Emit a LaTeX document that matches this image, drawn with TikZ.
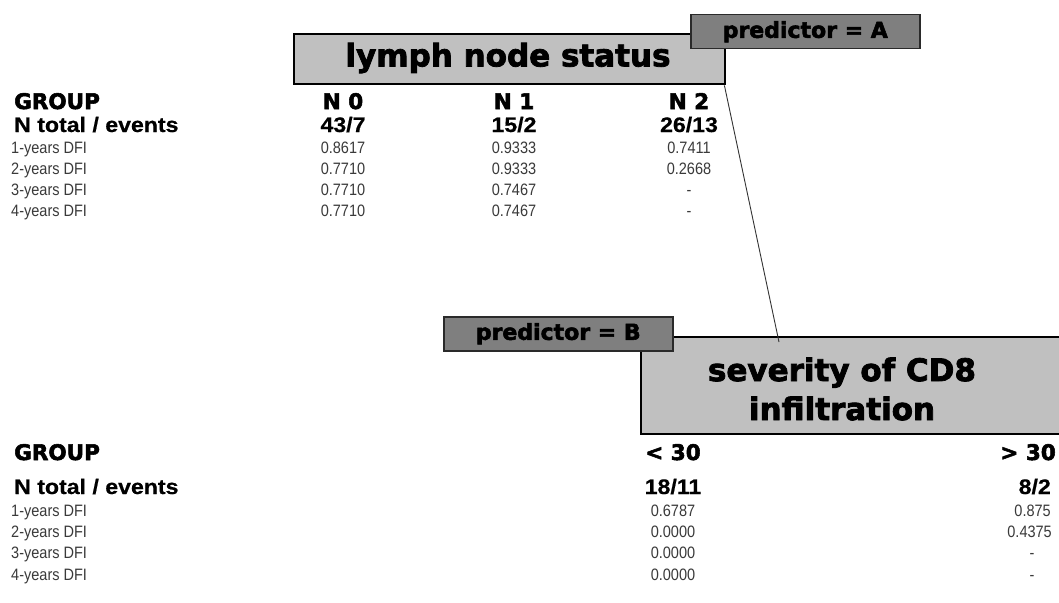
\documentclass[tikz,border=0pt]{standalone}
\usepackage{fontspec}
\setmainfont{Liberation Sans}
\newfontfamily\heavyfont{DejaVu Sans Bold}[FakeBold=2.5]
\newfontfamily\narrowfont{Liberation Sans}[FakeStretch=0.88]
\newfontfamily\hdrfont{Liberation Sans Bold}[FakeStretch=1.1, FakeBold=0.6]
\definecolor{boxlight}{HTML}{C0C0C0}
\definecolor{boxdark}{HTML}{7F7F7F}
\definecolor{boxedge}{HTML}{2A2A2A}
\definecolor{valtext}{HTML}{3A3A3A}
\tikzset{
  lightbox/.style={draw=black, line width=2.4pt, fill=boxlight, inner sep=0pt, anchor=north west},
  predbox/.style={draw=boxedge, line width=1.5pt, fill=boxdark, inner sep=0pt, anchor=north west,
    font=\heavyfont\fontsize{22}{24}\selectfont},
  titletext/.style={font=\heavyfont\fontsize{31}{39}\selectfont, align=center, inner sep=0pt},
  heavyhdr/.style={font=\heavyfont\fontsize{21.5}{24}\selectfont, inner sep=0pt},
  boldhdr/.style={font=\hdrfont\fontsize{21}{24}\selectfont, inner sep=0pt},
  rowlab/.style={font=\narrowfont\fontsize{16.5}{19}\selectfont, text=valtext, inner sep=0pt, anchor=base west},
  val/.style={font=\narrowfont\fontsize{16.5}{19}\selectfont, text=valtext, inner sep=0pt, anchor=base},
  valr/.style={font=\narrowfont\fontsize{16.5}{19}\selectfont, text=valtext, inner sep=0pt, anchor=base east},
  conn/.style={draw=black!80, line width=0.9pt}
}
\begin{document}
\begin{tikzpicture}[x=1pt,y=-1pt]
\clip (0,0) rectangle (1059,602);
\fill[white] (0,0) rectangle (1059,602);

% ---------- top boxes ----------
\node[lightbox, minimum width=431pt, minimum height=50pt] (lymph) at (293,33) {};
\node[titletext] (lymphtxt) at (508,58) {lymph node status};
\node[predbox, minimum width=229pt, minimum height=34pt] (predA) at (690,14) {predictor = A};

% ---------- bottom boxes ----------
\node[lightbox, minimum width=440pt, minimum height=97pt] (sev) at (640,336) {};
\coordinate (sevin) at (779,342);
\draw[conn] ([xshift=-2pt]lymph.south east) -- (sevin);
\node[titletext] (sevtxt) at (842,389) {severity of CD8\\infiltration};
\node[predbox, minimum width=229pt, minimum height=34pt] (predB) at (443,316) {predictor = B};

% ---------- top table ----------
\node[heavyhdr, anchor=base west] (g1) at (14,109) {GROUP};
\node[boldhdr, anchor=base west] (nt1) at (14,132) {N total / events};
\node[rowlab] (r11) at (11,153) {1-years DFI};
\node[rowlab] (r12) at (11,174) {2-years DFI};
\node[rowlab] (r13) at (11,195) {3-years DFI};
\node[rowlab] (r14) at (11,216) {4-years DFI};

\node[heavyhdr, anchor=base] (c0) at (343,109) {N 0};
\node[heavyhdr, anchor=base] (c1) at (514,109) {N 1};
\node[heavyhdr, anchor=base] (c2) at (689,109) {N 2};
\node[boldhdr, anchor=base] (n0) at (343,132) {43/7};
\node[boldhdr, anchor=base] (n1) at (514,132) {15/2};
\node[boldhdr, anchor=base] (n2) at (689,132) {26/13};

\node[val] (a1) at (343,153) {0.8617};
\node[val] (a2) at (343,174) {0.7710};
\node[val] (a3) at (343,195) {0.7710};
\node[val] (a4) at (343,216) {0.7710};
\node[val] (b1) at (514,153) {0.9333};
\node[val] (b2) at (514,174) {0.9333};
\node[val] (b3) at (514,195) {0.7467};
\node[val] (b4) at (514,216) {0.7467};
\node[val] (d1) at (689,153) {0.7411};
\node[val] (d2) at (689,174) {0.2668};
\node[val] (d3) at (689,195) {-};
\node[val] (d4) at (689,216) {-};

% ---------- bottom table ----------
\node[heavyhdr, anchor=base west] (g2) at (14,460) {GROUP};
\node[boldhdr, anchor=base west] (nt2) at (14,494) {N total / events};
\node[rowlab] (r21) at (11,516) {1-years DFI};
\node[rowlab] (r22) at (11,537) {2-years DFI};
\node[rowlab] (r23) at (11,558) {3-years DFI};
\node[rowlab] (r24) at (11,580) {4-years DFI};

\node[heavyhdr, anchor=base] (lt) at (673,460) {< 30};
\node[heavyhdr, anchor=base east] (gt) at (1056,460) {> 30};
\node[boldhdr, anchor=base] (ln) at (673,494) {18/11};
\node[boldhdr, anchor=base east] (gn) at (1051,494) {8/2};

\node[val] (e1) at (673,516) {0.6787};
\node[val] (e2) at (673,537) {0.0000};
\node[val] (e3) at (673,558) {0.0000};
\node[val] (e4) at (673,580) {0.0000};
\node[valr] (f1) at (1051,516) {0.875};
\node[valr] (f2) at (1052,537) {0.4375};
\node[val] (f3) at (1032,558) {-};
\node[val] (f4) at (1032,580) {-};
\end{tikzpicture}
\end{document}
